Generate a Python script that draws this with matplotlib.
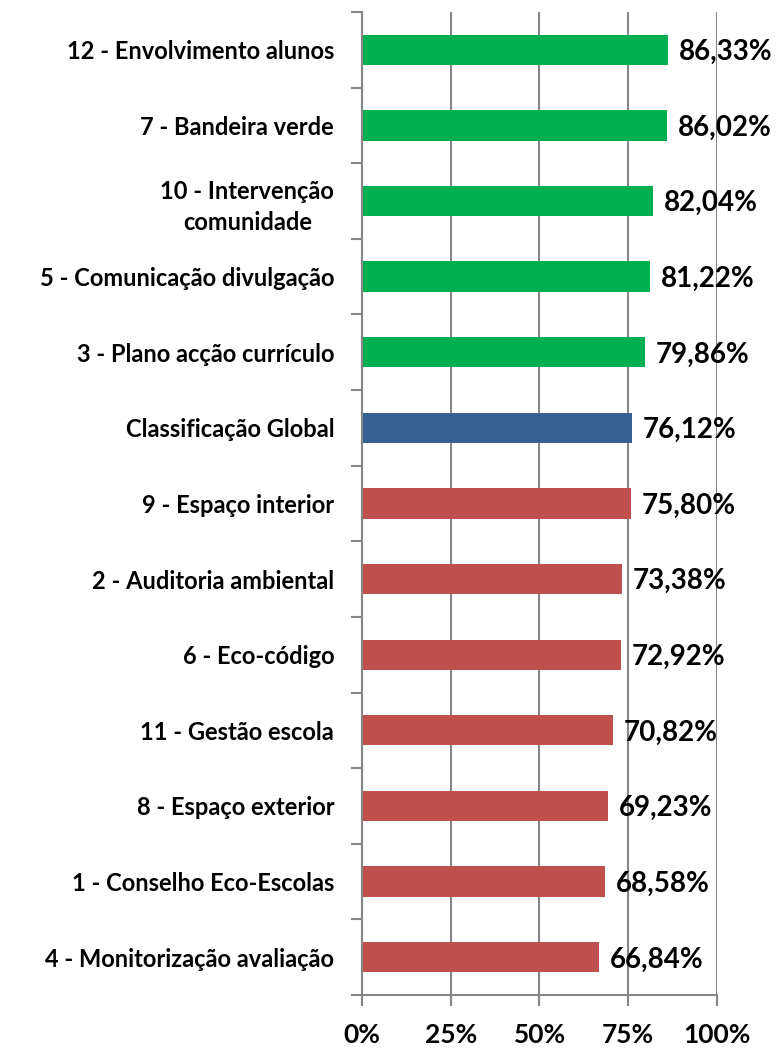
import numpy as np
import matplotlib.pyplot as plt
from matplotlib.ticker import FixedLocator, PercentFormatter

labels = ['12 - Envolvimento alunos', '7 - Bandeira verde',
          '10 - Intervenção\ncomunidade', '5 - Comunicação divulgação',
          '3 - Plano acção currículo', 'Classificação Global',
          '9 - Espaço interior', '2 - Auditoria ambiental',
          '6 - Eco-código', '11 - Gestão escola', '8 - Espaço exterior',
          '1 - Conselho Eco-Escolas', '4 - Monitorização avaliação']
values = [86.33, 86.02, 82.04, 81.22, 79.86, 76.12, 75.80,
          73.38, 72.92, 70.82, 69.23, 68.58, 66.84]
groups = ['top'] * 5 + ['global'] + ['low'] * 7
palette = {'top': '#00B050', 'global': '#376092', 'low': '#C0504D'}

plt.rcParams['font.family'] = ['Lato', 'DejaVu Sans']
plt.rcParams['font.weight'] = 'bold'

fig = plt.figure(figsize=(7.79, 10.49), dpi=100)
ax = fig.add_axes([0.4647, 0.0515, 0.4557, 0.9371])

y = np.arange(len(values))
ax.barh(y, values, height=0.4, color=[palette[g] for g in groups], zorder=2)

for yi, v in zip(y, values):
    ax.text(v + 3, yi + 0.03, f'{v:.2f}%'.replace('.', ','), va='center',
            ha='left', fontsize=20, fontweight='bold', zorder=3)

ax.set_xlim(0, 100)
ax.set_ylim(len(values) - 0.5, -0.5)
ax.set_xticks([0, 25, 50, 75, 100])
ax.xaxis.set_major_formatter(PercentFormatter(decimals=0))
ax.grid(axis='x', color='#868686', linewidth=1.5, zorder=0)

ax.set_yticks(y)
ax.set_yticklabels(labels, fontsize=17, fontweight='bold', multialignment='center',
                   linespacing=1.4)
ax.yaxis.set_minor_locator(FixedLocator(np.arange(-0.5, len(values), 1.0)))
ax.tick_params(axis='y', which='major', length=0, pad=20)
ax.tick_params(axis='y', which='minor', length=8, width=1.5, color='#868686')
ax.tick_params(axis='x', length=8, width=1.5, color='#868686', labelsize=19, pad=12)
for lab in ax.get_xticklabels():
    lab.set_fontweight('bold')

for s in ['top', 'right']:
    ax.spines[s].set_visible(False)
for s in ['left', 'bottom']:
    ax.spines[s].set_color('#868686')
    ax.spines[s].set_linewidth(1.5)

fig.savefig('out.png', dpi=100)
